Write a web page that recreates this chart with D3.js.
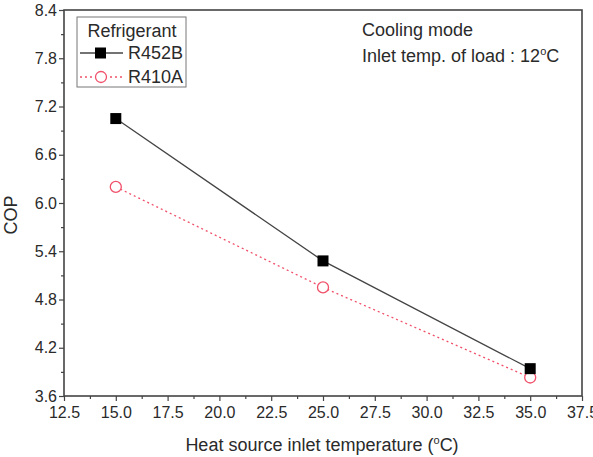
<!DOCTYPE html>
<html><head><meta charset="utf-8">
<script src="https://cdn.jsdelivr.net/npm/d3@7"></script>
<style>body{margin:0;background:#fff}svg{display:block}text{font-family:"Liberation Sans",Arial,sans-serif;fill:#2a2a2a}</style>
</head><body><svg id="c" width="593" height="457"></svg>
<script>
const temps = [15, 25, 35];
const r452b = [7.05, 5.28, 3.94];
const r410a = [6.20, 4.95, 3.83];
const xTicks = [12.5, 15.0, 17.5, 20.0, 22.5, 25.0, 27.5, 30.0, 32.5, 35.0, 37.5];
const yTicks = [3.6, 4.2, 4.8, 5.4, 6.0, 6.6, 7.2, 7.8, 8.4];

const svg = d3.select("#c");
const L = 64, R = 582, T = 10, B = 396;
const x = d3.scaleLinear().domain([12.5, 37.5]).range([L, R]);
const y = d3.scaleLinear().domain([3.6, 8.4]).range([B, T]);
const axisCol = "#444";
const FS = 18, TFS = 16;

const xMinor = d3.range(0, 21).map(i => 12.5 + i * 1.25).filter(v => !xTicks.some(t => Math.abs(t - v) < 1e-6));
const yMinor = d3.range(0, 17).map(i => 3.6 + i * 0.3).filter(v => !yTicks.some(t => Math.abs(t - v) < 1e-6));

const gx = svg.append("g").attr("transform", `translate(0,${B})`)
  .call(d3.axisBottom(x).tickValues(xTicks).tickFormat(d3.format(".1f")).tickSize(5).tickPadding(6));
gx.select(".domain").remove();
gx.selectAll("line").attr("stroke", axisCol).attr("stroke-width", 1.2);
gx.selectAll("text").attr("font-size", TFS).attr("fill", "#333").style("font-family", "Liberation Sans, Arial");
svg.append("g").attr("transform", `translate(0,${B})`)
  .call(d3.axisBottom(x).tickValues(xMinor).tickFormat("").tickSize(3))
  .call(g => g.select(".domain").remove())
  .selectAll("line").attr("stroke", axisCol).attr("stroke-width", 1.2);

const gy = svg.append("g").attr("transform", `translate(${L},0)`)
  .call(d3.axisLeft(y).tickValues(yTicks).tickFormat(d3.format(".1f")).tickSize(5).tickPadding(2));
gy.select(".domain").remove();
gy.selectAll("line").attr("stroke", axisCol).attr("stroke-width", 1.2);
gy.selectAll("text").attr("font-size", TFS).attr("fill", "#333").style("font-family", "Liberation Sans, Arial");
svg.append("g").attr("transform", `translate(${L},0)`)
  .call(d3.axisLeft(y).tickValues(yMinor).tickFormat("").tickSize(3))
  .call(g => g.select(".domain").remove())
  .selectAll("line").attr("stroke", axisCol).attr("stroke-width", 1.2);

svg.append("rect").attr("x", L).attr("y", T).attr("width", R - L).attr("height", B - T)
  .attr("fill", "none").attr("stroke", axisCol).attr("stroke-width", 1.6);

const line = d3.line().x((d, i) => x(temps[i])).y(d => y(d));

svg.append("path").datum(r410a).attr("d", line).attr("fill", "none")
  .attr("stroke", "#f0506a").attr("stroke-width", 1.3).attr("stroke-dasharray", "2,3");
svg.selectAll(".c410").data(r410a).enter().append("circle")
  .attr("cx", (d, i) => x(temps[i])).attr("cy", d => y(d)).attr("r", 5.5)
  .attr("fill", "#fff").attr("stroke", "#f0506a").attr("stroke-width", 1.3);

svg.append("path").datum(r452b).attr("d", line).attr("fill", "none")
  .attr("stroke", "#444").attr("stroke-width", 1.3);
svg.selectAll(".s452").data(r452b).enter().append("rect")
  .attr("x", (d, i) => x(temps[i]) - 5.5).attr("y", d => y(d) - 5.5)
  .attr("width", 11).attr("height", 11).attr("fill", "#000");

const lg = svg.append("g");
lg.append("rect").attr("x", 77).attr("y", 17).attr("width", 109).attr("height", 70)
  .attr("fill", "#fff").attr("stroke", "#777").attr("stroke-width", 1);
lg.append("text").attr("x", 132).attr("y", 37).attr("text-anchor", "middle").attr("font-size", FS).text("Refrigerant");
lg.append("line").attr("x1", 80).attr("x2", 123).attr("y1", 53).attr("y2", 53).attr("stroke", "#444").attr("stroke-width", 1.3);
lg.append("rect").attr("x", 95).attr("y", 47.5).attr("width", 11).attr("height", 11).attr("fill", "#000");
lg.append("text").attr("x", 128).attr("y", 59).attr("font-size", FS).text("R452B");
lg.append("line").attr("x1", 80).attr("x2", 123).attr("y1", 77).attr("y2", 77).attr("stroke", "#f0506a").attr("stroke-width", 1.3).attr("stroke-dasharray", "2,3");
lg.append("circle").attr("cx", 101).attr("cy", 77).attr("r", 5.5).attr("fill", "#fff").attr("stroke", "#f0506a").attr("stroke-width", 1.3);
lg.append("text").attr("x", 128).attr("y", 83).attr("font-size", FS).text("R410A");

svg.append("text").attr("x", 362).attr("y", 35.5).attr("font-size", FS).text("Cooling mode");
const ann = svg.append("text").attr("x", 362).attr("y", 62).attr("font-size", FS);
ann.append("tspan").text("Inlet temp. of load : 12");
ann.append("tspan").attr("font-size", 11).attr("dy", -7).text("o");
ann.append("tspan").attr("dy", 7).text("C");

const xl = svg.append("text").attr("x", 322).attr("y", 451).attr("text-anchor", "middle").attr("font-size", FS);
xl.append("tspan").text("Heat source inlet temperature (");
xl.append("tspan").attr("font-size", 11).attr("dy", -7).text("o");
xl.append("tspan").attr("dy", 7).text("C)");
svg.append("text").attr("transform", "translate(17,215) rotate(-90)").attr("text-anchor", "middle").attr("font-size", FS).text("COP");
</script></body></html>
